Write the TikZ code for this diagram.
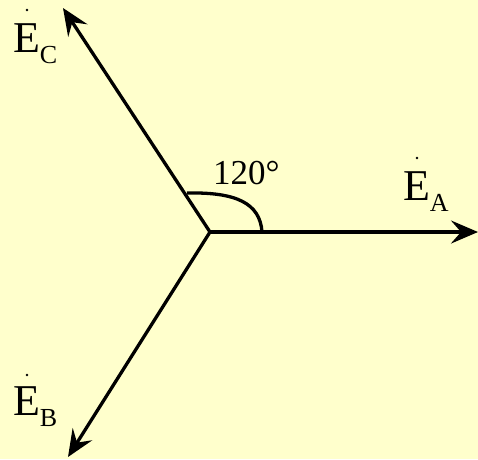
\documentclass[tikz,border=0pt]{standalone}
\usepackage{fontspec}
\setmainfont{Liberation Serif}
\usetikzlibrary{arrows.meta}
\newcommand\phasorlabel[1]{\fontsize{44}{44}\selectfont E\raisebox{-11pt}{\fontsize{26}{26}\selectfont #1}}
\begin{document}
\begin{tikzpicture}[x=1pt,y=-1pt,
  vec/.style={line width=3.3pt,-{Stealth[length=27pt,width=23pt,inset=10pt]}},
  lbl/.style={anchor=base west,inner sep=0pt,outer sep=0pt},
  phdot/.style={fill=black}]
\fill[fill={rgb,255:red,255;green,255;blue,204}] (0,0) rectangle (478,459);
\useasboundingbox (0,0) rectangle (478,459);
\coordinate (O) at (210,232);
\coordinate (A) at (478,232);
\coordinate (C) at (63,8);
\coordinate (B) at (68,457);
\coordinate (arcS) at (262,232);
\coordinate (arcE) at (187,193);
\draw[vec] (O) -- (A);
\draw[vec] (O) -- (C);
\draw[vec] (O) -- (B);
\draw[line width=3.3pt] (arcS) .. controls (260,203) and (236,192) .. (arcE);
\node[lbl] (ang) at (213,184) {\fontsize{35}{35}\selectfont 120°};
\node[lbl] (EA) at (403,200) {\phasorlabel{A}};
\node[lbl] (EC) at (13,52) {\phasorlabel{C}};
\node[lbl] (EB) at (13,415) {\phasorlabel{B}};
\fill[phdot] ([shift={(14,-42)}]EA.base west) circle (1.4pt);
\fill[phdot] ([shift={(14,-42)}]EC.base west) circle (1.4pt);
\fill[phdot] ([shift={(14,-40)}]EB.base west) circle (1.4pt);
\end{tikzpicture}
\end{document}
